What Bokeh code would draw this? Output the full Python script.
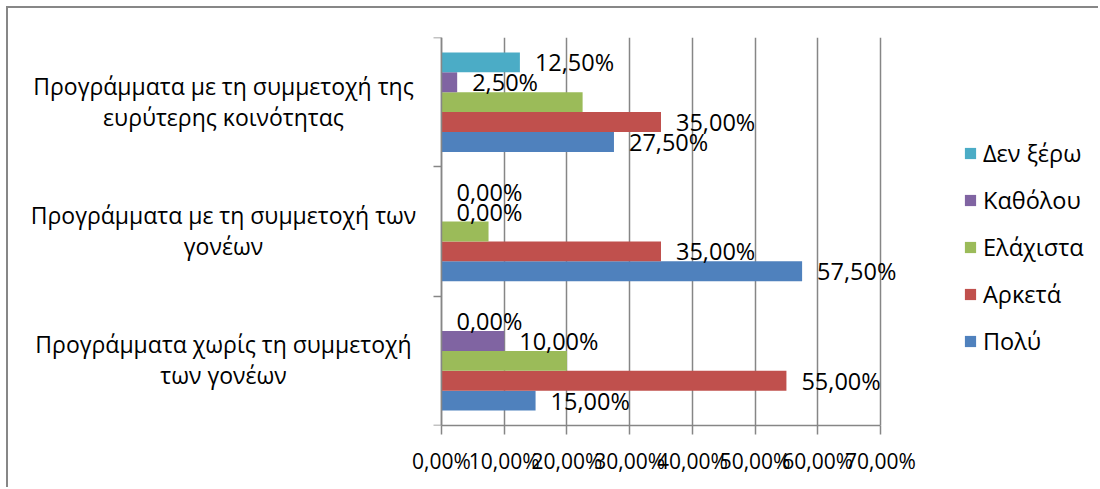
from bokeh.plotting import figure
from bokeh.models import FixedTicker, Legend, LegendItem, ColumnDataSource, Range1d
from bokeh.embed import file_html
from bokeh.resources import INLINE
from bokeh.core.properties import value

# Program types, bottom to top (two-line names)
categories = [
    "Προγράμματα χωρίς τη συμμετοχή\nτων γονέων",
    "Προγράμματα με τη συμμετοχή των\nγονέων",
    "Προγράμματα με τη συμμετοχή της\nευρύτερης κοινότητας",
]

# Answer series (percent), bottom bar of each group first
series_names = ["Πολύ", "Αρκετά", "Ελάχιστα", "Καθόλου", "Δεν ξέρω"]
poly = [15.0, 57.5, 27.5]
arketa = [55.0, 35.0, 35.0]
elaxista = [20.0, 7.5, 22.5]
katholou = [10.0, 0.0, 2.5]
den_xero = [0.0, 0.0, 12.5]
series_values = [poly, arketa, elaxista, katholou, den_xero]
series_colors = ["#4F81BD", "#C0504D", "#9BBB59", "#8064A2", "#4BACC6"]
series_labeled = [True, True, False, True, True]

x_ticks = [0, 10, 20, 30, 40, 50, 60, 70]
x_tick_labels = ["0,00%", "10,00%", "20,00%", "30,00%", "40,00%", "50,00%", "60,00%", "70,00%"]

FONT = "Open Sans"
GRID = "#868686"

# page geometry (pixels): canvas width/height, plot area edges inside the canvas
CANVAS_W, CANVAS_H = 1092, 481
FRAME_LEFT = 20          # frame spans the whole width so the labels and legend can sit in it
AXIS_X0 = 433            # where 0% sits
AXIS_X70 = 872           # where 70% sits
px_per_unit = (AXIS_X70 - AXIS_X0) / 70.0
x_start = -(AXIS_X0 - FRAME_LEFT) / px_per_unit
x_end = (CANVAS_W - AXIS_X0) / px_per_unit

def pct(v):
    return f"{v:.2f}".replace(".", ",") + "%"

p = figure(
    width=CANVAS_W, height=CANVAS_H,
    x_range=Range1d(x_start, x_end), y_range=Range1d(0, len(categories)),
    output_backend="svg", toolbar_location=None,
    min_border_left=FRAME_LEFT, min_border_right=0,
    min_border_top=29, min_border_bottom=64,
    margin=(6, 0, 0, 6),
)
p.styles = {"border-top": "2px solid #878787", "border-left": "2px solid #878787"}
p.outline_line_color = None
p.background_fill_color = "white"
p.border_fill_color = "white"

# x axis: percentage scale with vertical gridlines
p.xaxis.ticker = FixedTicker(ticks=x_ticks)
p.xaxis.bounds = (0, 70)
p.xaxis.major_label_overrides = {t: lab for t, lab in zip(x_ticks, x_tick_labels)}
p.xaxis.axis_line_color = GRID
p.xaxis.axis_line_width = 1.5
p.xaxis.major_tick_line_color = GRID
p.xaxis.major_tick_line_width = 1.5
p.xaxis.major_tick_in = 0
p.xaxis.major_tick_out = 9
p.xaxis.minor_tick_line_color = None
p.xaxis.major_label_text_font = FONT
p.xaxis.major_label_text_font_size = "21px"
p.xaxis.major_label_text_color = "black"
p.xaxis.major_label_standoff = 12
p.xgrid.ticker = FixedTicker(ticks=x_ticks)
p.xgrid.grid_line_color = GRID
p.xgrid.grid_line_width = 1.5
p.ygrid.grid_line_color = None

# y axis at 0%: tick marks at group boundaries, names drawn as text
centers = [i + 0.5 for i in range(len(categories))]
bounds = [float(i) for i in range(len(categories) + 1)]
p.yaxis.fixed_location = 0
p.yaxis.ticker = FixedTicker(ticks=[], minor_ticks=bounds)
p.yaxis.major_label_standoff = 0
p.yaxis.axis_line_color = GRID
p.yaxis.axis_line_width = 1.5
p.yaxis.major_tick_line_color = None
p.yaxis.minor_tick_line_color = GRID
p.yaxis.minor_tick_line_width = 1.5
p.yaxis.minor_tick_in = 0
p.yaxis.minor_tick_out = 8

cat_src = ColumnDataSource(dict(x=[0] * len(categories), y=centers, t=categories))
p.text(x="x", y="y", text="t", source=cat_src, x_offset=-218, y_offset=-1,
       text_font=value(FONT), text_font_size="23px", text_color="black",
       text_align="center", text_baseline="middle", text_line_height=0.96)

# bars: five per group, gap of 1.5 bar heights between groups
bar_h = 1.0 / 6.5
items = []
for s, (name, vals, col, lab) in enumerate(zip(series_names, series_values, series_colors, series_labeled)):
    ys = [c + (s - 2) * bar_h for c in centers]
    src = ColumnDataSource(dict(y=ys, v=vals, t=[pct(v) for v in vals]))
    r = p.hbar(y="y", left=0, right="v", height=bar_h, source=src,
               fill_color=col, line_color=None)
    items.append(LegendItem(label=name, renderers=[r]))
    if lab:
        p.text(x="v", y="y", text="t", source=src, x_offset=15,
               text_font=value(FONT), text_font_size="23.5px", text_color="black",
               text_align="left", text_baseline="middle")

legend = Legend(items=items[::-1], location=(955 - FRAME_LEFT, 68))
legend.padding = 0
legend.margin = 0
legend.border_line_color = None
legend.background_fill_alpha = 0
legend.glyph_width = 14
legend.glyph_height = 14
legend.label_height = 32
legend.spacing = 15
legend.label_standoff = 6
legend.label_text_font = FONT
legend.label_text_font_size = "23.5px"
legend.label_text_color = "black"
p.add_layout(legend)

open("out.html", "w").write(file_html(p, INLINE))
